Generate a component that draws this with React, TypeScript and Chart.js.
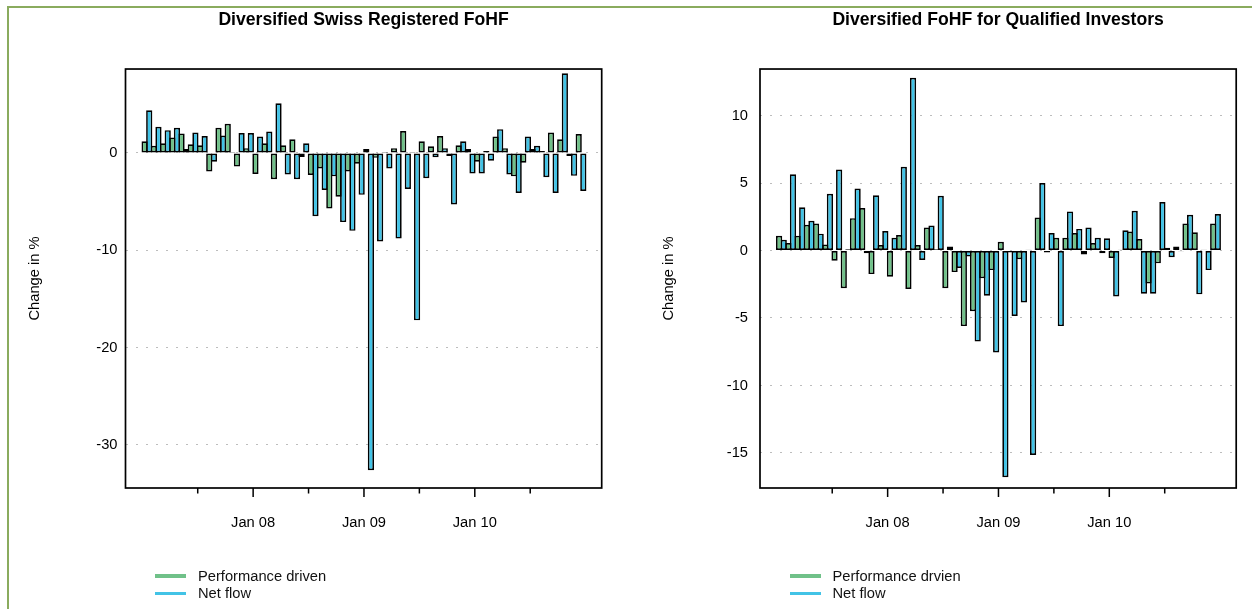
import React, { useEffect, useRef } from "react";
import { Chart, registerables } from "chart.js";

Chart.register(...registerables);

// ---------- data ----------
const MONTH_LABELS = [
  "Jan 07", "Feb 07", "Mar 07", "Apr 07", "May 07", "Jun 07", "Jul 07", "Aug 07", "Sep 07", "Oct 07", "Nov 07", "Dec 07",
  "Jan 08", "Feb 08", "Mar 08", "Apr 08", "May 08", "Jun 08", "Jul 08", "Aug 08", "Sep 08", "Oct 08", "Nov 08", "Dec 08",
  "Jan 09", "Feb 09", "Mar 09", "Apr 09", "May 09", "Jun 09", "Jul 09", "Aug 09", "Sep 09", "Oct 09", "Nov 09", "Dec 09",
  "Jan 10", "Feb 10", "Mar 10", "Apr 10", "May 10", "Jun 10", "Jul 10", "Aug 10", "Sep 10", "Oct 10", "Nov 10", "Dec 10",
];

const SWISS_PERF = [
  1.2, 0.75, 1.0, 1.6, 2.0, 0.9, 0.8, -1.9, 2.6, 3.0, -1.4, 0.5,
  -2.15, 1.0, -2.7, 0.8, 1.4, -0.4, -2.25, -1.6, -5.7, -4.5, -1.9, -1.1,
  0.4, -0.5, 0.1, 0.5, 2.25, 0.1, 1.2, 0.7, 1.75, -0.3, 0.8, 0.4,
  -0.9, 0.2, 1.7, 0.5, -2.4, -1.0, 0.4, 0.2, 2.1, 1.4, -0.3, 1.95,
];
const SWISS_FLOW = [
  4.4, 2.7, 2.35, 2.6, 0.4, 2.1, 1.75, -0.9, 1.8, 0.1, 2.05, 2.05,
  1.7, 2.2, 5.1, -2.2, -2.7, 1.0, -6.5, -3.8, -2.4, -7.1, -8.0, -4.3,
  -32.6, -9.1, -1.6, -8.8, -3.7, -17.2, -2.6, -0.45, 0.5, -5.3, 1.2, -2.1,
  -2.1, -0.8, 2.45, -2.2, -4.1, 1.7, 0.75, -2.5, -4.1, 8.2, -2.35, -3.9,
];

const QUAL_PERF = [
  1.09, 0.55, 1.09, 1.9, 2.0, 0.45, -0.75, -2.8, 2.4, 3.15, -1.75, 0.4,
  -1.95, 1.15, -2.85, 0.4, 1.7, 0.1, -2.8, -1.6, -5.6, -4.5, -2.05, -1.45,
  0.65, -0.15, -0.65, 0.05, 2.45, -0.15, 0.95, 0.95, 1.3, -0.3, 0.55, -0.2,
  -0.55, 0.05, 1.4, 0.85, -2.45, -0.95, 0.2, 0.3, 2.0, 1.35, 0.05, 2.0,
];
const QUAL_FLOW = [
  0.8, 5.65, 3.2, 2.2, 1.25, 4.2, 6.0, 0.1, 4.6, -0.2, 4.1, 1.45,
  0.95, 6.2, 12.8, -0.7, 1.85, 4.05, 0.3, -1.3, -0.45, -6.75, -3.35, -7.55,
  -16.8, -4.85, -3.85, -15.15, 5.0, 1.3, -5.6, 2.9, 1.6, 1.7, 0.95, 0.9,
  -3.4, 1.5, 2.95, -3.2, -3.2, 3.6, -0.5, -0.05, 2.65, -3.25, -1.45, 2.7,
];

const X_MAJOR_TICKS = [12, 24, 36];
const X_TICK_LABELS = ["Jan 08", "Jan 09", "Jan 10"];
const X_MINOR_TICKS = [6, 18, 30, 42];

const SWISS_Y_TICKS = [-30, -20, -10, 0];
const QUAL_Y_TICKS = [-15, -10, -5, 0, 5, 10];

// ---------- style ----------
const FONT = "'Liberation Sans', Arial, Helvetica, sans-serif";
const GREEN = "#70c189";
const BLUE = "#42c3e6";
const X_MIN = -1.82;
const X_MAX = 49.74;

const boxPlugin = {
  id: "boxAndTicks",
  afterDatasetsDraw(chart: any) {
    const { ctx, chartArea } = chart;
    const { left, top, right, bottom } = chartArea;
    const xs = chart.scales.x;
    ctx.save();
    ctx.strokeStyle = "#000";
    ctx.lineWidth = 1.7;
    ctx.strokeRect(left, top, right - left, bottom - top);
    ctx.lineWidth = 1.5;
    ctx.beginPath();
    X_MAJOR_TICKS.forEach((v) => {
      const px = xs.getPixelForValue(v);
      ctx.moveTo(px, bottom);
      ctx.lineTo(px, bottom + 9);
    });
    X_MINOR_TICKS.forEach((v) => {
      const px = xs.getPixelForValue(v);
      ctx.moveTo(px, bottom);
      ctx.lineTo(px, bottom + 5.5);
    });
    ctx.stroke();
    ctx.restore();
  },
};

type PanelProps = {
  left: number;
  title: string;
  perf: number[];
  flow: number[];
  yTicks: number[];
  yMin: number;
  yMax: number;
  yAxisWidth: number;
  yTitlePad: number;
  yTickPad: number;
  rightPad: number;
};

function Panel(p: PanelProps) {
  const ref = useRef<HTMLCanvasElement>(null);
  useEffect(() => {
    const barStyle = {
      borderColor: "#000",
      borderWidth: 1.7,
      borderSkipped: false,
      barPercentage: 1.35,
      categoryPercentage: 1,
    };
    const chart = new Chart(ref.current as HTMLCanvasElement, {
      type: "bar",
      data: {
        labels: MONTH_LABELS,
        datasets: [
          {
            label: "Performance driven",
            data: p.perf.map((v, i) => ({ x: i + 0.5, y: v })),
            backgroundColor: GREEN,
            ...barStyle,
          },
          {
            label: "Net flow",
            data: p.flow.map((v, i) => ({ x: i + 0.5, y: v })),
            backgroundColor: BLUE,
            ...barStyle,
          },
        ] as any,
      },
      options: {
        responsive: false,
        animation: false,
        layout: { padding: { left: 0, right: p.rightPad, top: 0, bottom: 0 } },
        plugins: {
          legend: { display: false },
          tooltip: { enabled: false },
          title: {
            display: true,
            text: p.title,
            fullSize: false,
            color: "#000",
            font: { family: FONT, size: 17.6, weight: "bold", lineHeight: 1.2 },
            padding: { top: 9.4, bottom: 38.5 },
          },
        },
        scales: {
          x: {
            type: "linear",
            min: X_MIN,
            max: X_MAX,
            offset: false,
            grid: { display: false, drawTicks: false },
            border: { display: false },
            afterBuildTicks: (s: any) => {
              s.ticks = X_MAJOR_TICKS.map((v) => ({ value: v }));
            },
            afterFit: (s: any) => {
              s.height = 121;
            },
            ticks: {
              autoSkip: false,
              maxRotation: 0,
              padding: 26,
              color: "#000",
              font: { family: FONT, size: 14.7 },
              callback: (_v: any, i: number) => X_TICK_LABELS[i],
            },
          },
          y: {
            type: "linear",
            min: p.yMin,
            max: p.yMax,
            afterBuildTicks: (s: any) => {
              s.ticks = p.yTicks.map((v) => ({ value: v }));
            },
            afterFit: (s: any) => {
              s.width = p.yAxisWidth;
            },
            grid: { color: "#bdbdbd", lineWidth: 1, drawTicks: false },
            border: { display: false, dash: [2, 8] },
            ticks: {
              padding: p.yTickPad,
              color: "#000",
              font: { family: FONT, size: 14.7 },
              callback: (v: any) => String(v),
            },
            title: {
              display: true,
              text: "Change in %",
              color: "#000",
              font: { family: FONT, size: 14.7, lineHeight: 1.2 },
              padding: { top: p.yTitlePad, bottom: 0 },
            },
          },
        },
      } as any,
      plugins: [boxPlugin],
    });
    return () => chart.destroy();
  }, []);
  return (
    <canvas
      ref={ref}
      width={626}
      height={609}
      style={{ position: "absolute", left: p.left, top: 0, width: 626, height: 609, display: "block" }}
    />
  );
}

function LegendBlock({ left, perfLabel }: { left: number; perfLabel: string }) {
  const row = (top: number, color: string, text: string) => (
    <div style={{ position: "absolute", left, top, height: 18, width: 260 }}>
      <div style={{ position: "absolute", left: 0, top: 7.5, width: 31, height: 3.5, background: color }} />
      <div
        style={{
          position: "absolute",
          left: 43,
          top: 0,
          lineHeight: "18px",
          fontFamily: FONT,
          fontSize: 14.7,
          color: "#111",
          whiteSpace: "nowrap",
        }}
      >
        {text}
      </div>
    </div>
  );
  return (
    <>
      {row(566.5, GREEN, perfLabel)}
      {row(584, BLUE, "Net flow")}
    </>
  );
}

export default function App() {
  return (
    <div
      style={{
        position: "fixed",
        left: 0,
        top: 0,
        width: 1252,
        height: 609,
        background: "#fff",
        overflow: "hidden",
      }}
    >
      <div
        style={{
          position: "absolute",
          left: 7,
          top: 6,
          width: 1300,
          height: 700,
          borderTop: "2px solid #8aab5e",
          borderLeft: "2px solid #8aab5e",
        }}
      />
      <Panel
        left={0}
        title="Diversified Swiss Registered FoHF"
        perf={SWISS_PERF}
        flow={SWISS_FLOW}
        yTicks={SWISS_Y_TICKS}
        yMin={-34.43}
        yMax={8.63}
        yAxisWidth={125.5}
        yTitlePad={26.2}
        yTickPad={8}
        rightPad={24.3}
      />
      <Panel
        left={626}
        title="Diversified FoHF for Qualified Investors"
        perf={QUAL_PERF}
        flow={QUAL_FLOW}
        yTicks={QUAL_Y_TICKS}
        yMin={-17.6}
        yMax={13.45}
        yAxisWidth={134}
        yTitlePad={34.2}
        yTickPad={12}
        rightPad={15.8}
      />
      <LegendBlock left={155} perfLabel="Performance driven" />
      <LegendBlock left={789.5} perfLabel="Performance drvien" />
    </div>
  );
}
